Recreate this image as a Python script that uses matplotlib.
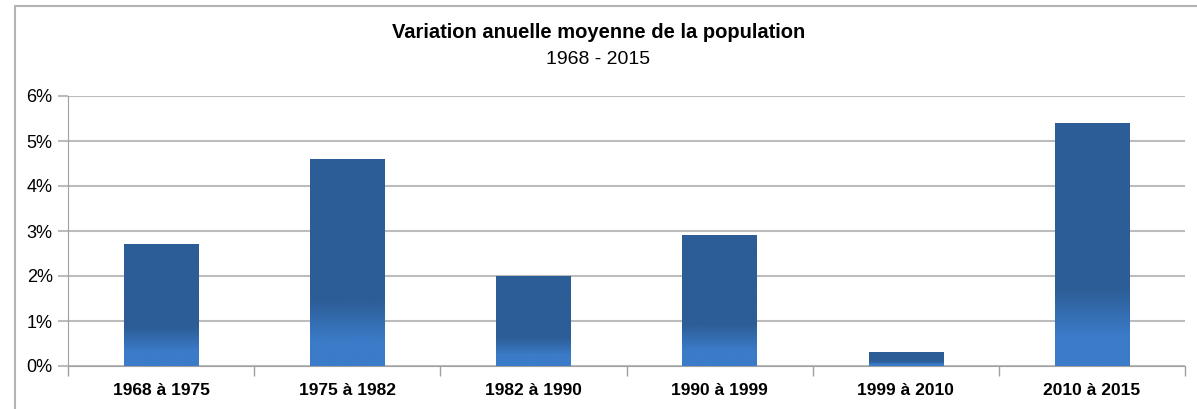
import numpy as np
import matplotlib
matplotlib.use("Agg")
import matplotlib.pyplot as plt
from matplotlib.colors import LinearSegmentedColormap
from matplotlib.patches import Rectangle
from matplotlib.ticker import FuncFormatter, FixedLocator

periods = ["1968 à 1975", "1975 à 1982", "1982 à 1990", "1990 à 1999", "1999 à 2010", "2010 à 2015"]
variation = [2.7, 4.6, 2.0, 2.9, 0.3, 5.4]
y_ticks = [0, 1, 2, 3, 4, 5, 6]

plt.rcParams['font.family'] = ['Liberation Sans Narrow', 'Liberation Sans', 'DejaVu Sans']

fig = plt.figure(figsize=(11.97, 4.09), dpi=100)
ax = fig.add_axes([68 / 1197, 43 / 409, 1117 / 1197, 270 / 409])

# chart border (top and left visible)
fig.add_artist(Rectangle((15 / 1197, -0.05), 1.2, 1 - 6 / 409 + 0.05,
                         transform=fig.transFigure, fill=False,
                         edgecolor="#b4b4b4", lw=1.5))

cmap = LinearSegmentedColormap.from_list(
    "bar", [(0, "#3b7bc8"), (0.12, "#3b7bc8"), (0.32, "#2c5d96"), (1, "#2c5d96")])
grad = np.linspace(0, 1, 256).reshape(-1, 1)

width = 0.4
x = np.arange(len(periods))
for xi, v in zip(x, variation):
    ax.imshow(grad, cmap=cmap, origin="lower", aspect="auto",
              extent=[xi - width / 2, xi + width / 2, 0, v], zorder=3,
              interpolation="bilinear")

ax.set_xlim(-0.5, len(periods) - 0.5)
ax.set_ylim(0, 6)
ax.set_yticks(y_ticks)
ax.yaxis.set_major_formatter(FuncFormatter(lambda v, p: f"{v:.0f}%"))
ax.grid(axis="y", color="#bcbcbc", lw=1.5, zorder=0)
ax.set_axisbelow(True)

ax.set_xticks(x)
ax.set_xticklabels(periods, fontweight="bold", fontsize=12.5)
ax.tick_params(axis="x", length=0, pad=12)
ax.xaxis.set_minor_locator(FixedLocator(np.arange(-0.5, len(periods), 1)))
ax.tick_params(axis="x", which="minor", length=7, color="#a0a0a0", width=1)
ax.tick_params(axis="y", length=7, color="#bcbcbc", width=1.5, labelsize=13, pad=4)

for s in ["top", "right"]:
    ax.spines[s].set_visible(False)
ax.spines["left"].set_color("#a0a0a0")
ax.spines["bottom"].set_color("#a0a0a0")

fig.text(0.5, 1 - 33 / 409, "Variation anuelle moyenne de la population",
         ha="center", va="center", fontsize=14.5, fontweight="bold")
fig.text(0.5, 1 - 60 / 409, "1968 - 2015", ha="center", va="center", fontsize=14)

fig.savefig("out.png", dpi=100)
